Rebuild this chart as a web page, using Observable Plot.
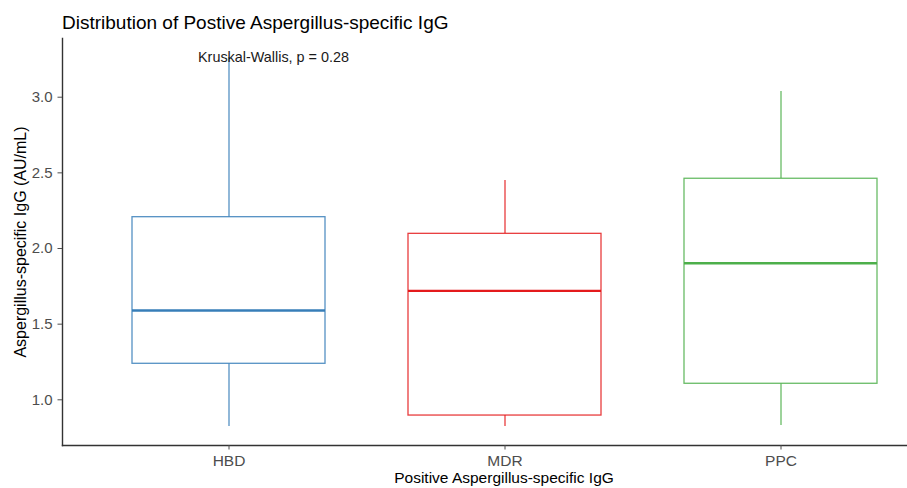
<!DOCTYPE html>
<html>
<head>
<meta charset="utf-8">
<script src="https://cdn.jsdelivr.net/npm/d3@7"></script>
<script src="https://cdn.jsdelivr.net/npm/@observablehq/plot@0.6"></script>
<style>
  body { margin: 0; background: #fff; font-family: "Liberation Sans", Arial, sans-serif; }
  #title { height: 36px; padding-left: 62px; font-size: 19px; line-height: 45px; color: #000; white-space: nowrap; box-sizing: border-box; }
  #chart svg { display: block; }
</style>
</head>
<body>
<div id="title">Distribution of Postive Aspergillus-specific IgG</div>
<div id="chart"></div>
<script>
const groups = ["HBD", "MDR", "PPC"];
const whiskerLow = [0.824, 0.824, 0.830];
const q1 = [1.238, 0.896, 1.106];
const median = [1.590, 1.720, 1.903];
const q3 = [2.207, 2.097, 2.461];
const whiskerHigh = [3.262, 2.449, 3.038];
const colors = ["#377EB8", "#E41A1C", "#4DAF4A"];
const yTicks = [1.0, 1.5, 2.0, 2.5, 3.0];
const annotation = "Kruskal-Wallis, p = 0.28";
const xTitle = "Positive Aspergillus-specific IgG";
const yTitle = "Aspergillus-specific IgG (AU/mL)";

const data = groups.map((g, i) => ({
  group: g, lo: whiskerLow[i], q1: q1[i], med: median[i], q3: q3[i], hi: whiskerHigh[i]
}));

const chart = Plot.plot({
  width: 907,
  height: 452,
  marginLeft: 62,
  marginRight: 0,
  marginTop: 2,
  marginBottom: 43,
  style: { fontFamily: "Liberation Sans, Arial, sans-serif", background: "#fff", overflow: "visible" },
  x: { domain: groups, paddingInner: 0.301, paddingOuter: 0.176, align: 0.698, label: null },
  y: { domain: [0.698, 3.388], label: null },
  color: { domain: groups, range: colors },
  marks: [
    Plot.ruleX(data, { x: "group", y1: "q3", y2: "hi", stroke: "group", strokeWidth: 1.3, strokeOpacity: 0.85 }),
    Plot.ruleX(data, { x: "group", y1: "lo", y2: "q1", stroke: "group", strokeWidth: 1.3, strokeOpacity: 0.85 }),
    Plot.barY(data, { x: "group", y1: "q1", y2: "q3", fill: "white", stroke: "group", strokeWidth: 1.3, strokeOpacity: 0.85 }),
    Plot.tickY(data, { x: "group", y: "med", stroke: "group", strokeWidth: 2.4 }),
    Plot.text([annotation], { x: [groups[0]], y: [whiskerHigh[0]], text: d => d, textAnchor: "start", dx: -31, fontSize: 14.4, fill: "#1a1a1a" }),
    Plot.frame({ anchor: "left", stroke: "#333", strokeWidth: 1.4 }),
    Plot.frame({ anchor: "bottom", stroke: "#333", strokeWidth: 1.4 }),
    Plot.axisY({ ticks: yTicks, tickFormat: d3.format(".1f"), tickSize: 4.5, tickPadding: 5.5, fontSize: 15, color: "#4d4d4d", label: null }),
    Plot.axisX({ tickSize: 4.5, tickPadding: 5, fontSize: 15.5, color: "#4d4d4d", label: null }),
    Plot.text([yTitle], { frameAnchor: "left", rotate: -90, textAnchor: "middle", dx: -42, fontSize: 16, fill: "#000", text: d => d }),
    Plot.text([xTitle], { frameAnchor: "bottom", dy: 37, dx: 19, fontSize: 15.5, fill: "#000", text: d => d })
  ]
});
document.getElementById("chart").appendChild(chart);
</script>
</body>
</html>
